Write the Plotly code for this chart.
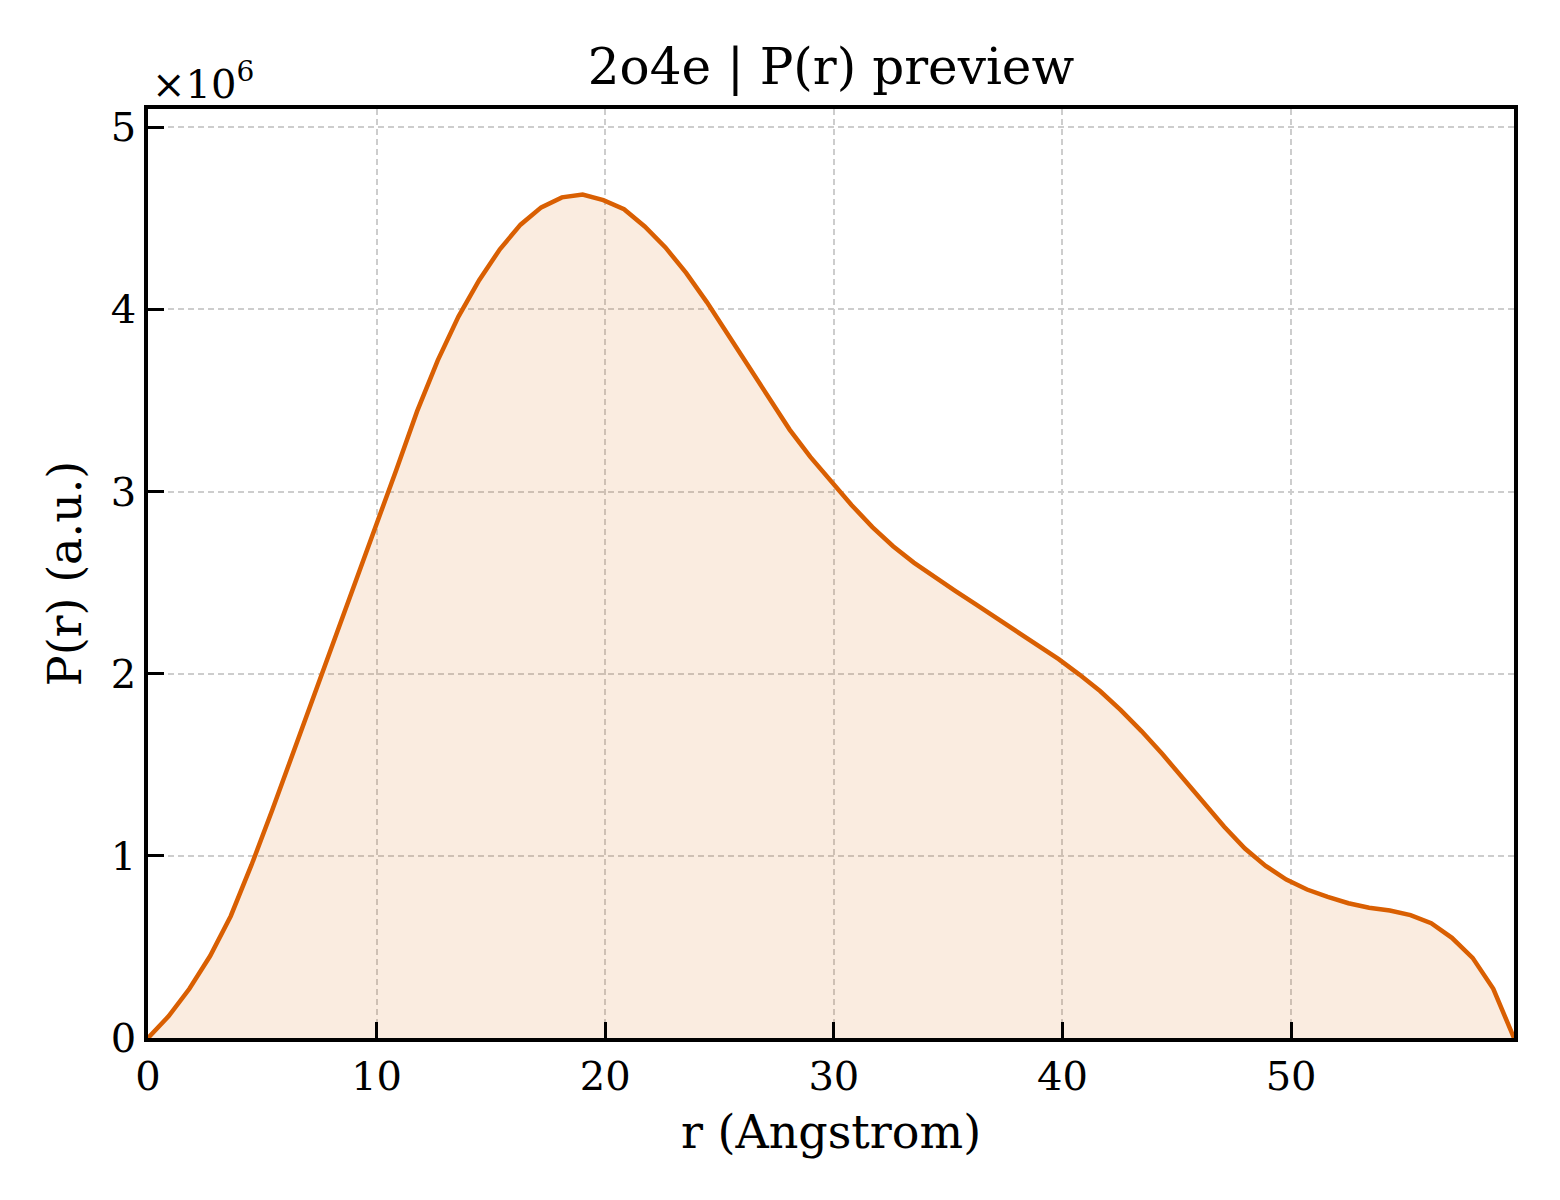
import numpy as np
import plotly.graph_objects as go

r_max = 59.75
n_points = 67
r = np.linspace(0, r_max, n_points)
p_r = [0.00, 0.12, 0.27, 0.45, 0.67, 0.95, 1.25, 1.56, 1.87, 2.18,
       2.49, 2.80, 3.12, 3.44, 3.72, 3.96, 4.16, 4.33, 4.465, 4.56,
       4.615, 4.63, 4.60, 4.55, 4.455, 4.34, 4.20, 4.04, 3.87, 3.69,
       3.515, 3.34, 3.19, 3.055, 2.925, 2.805, 2.70, 2.61, 2.53, 2.455,
       2.38, 2.305, 2.23, 2.155, 2.08, 1.995, 1.905, 1.80, 1.685, 1.56,
       1.425, 1.29, 1.16, 1.04, 0.945, 0.87, 0.815, 0.775, 0.74, 0.715,
       0.70, 0.675, 0.63, 0.55, 0.44, 0.27, 0.0]
scale_exp = 6

x_ticks = [0, 10, 20, 30, 40, 50]
y_ticks = [0, 1, 2, 3, 4, 5]

line_color = '#d95f02'
fill_color = 'rgba(217,95,2,0.12)'
font_family = 'DejaVu Serif'

fig = go.Figure()
fig.add_trace(go.Scatter(x=r, y=p_r, mode='lines',
                         line=dict(color=line_color, width=4.5),
                         fill='tozeroy', fillcolor=fill_color,
                         showlegend=False))

axis_common = dict(showline=True, linecolor='black', linewidth=3.5, mirror=True,
                   ticks='inside', ticklen=16, tickwidth=3, tickcolor='black',
                   showgrid=True, gridcolor='#cdcdcd', gridwidth=1.5, griddash='6px,4px',
                   zeroline=False, tickfont=dict(size=40, color='black'))

fig.update_xaxes(range=[0, r_max], tickvals=x_ticks,
                 title=dict(text='r (Angstrom)', font=dict(size=46), standoff=19),
                 **axis_common)
fig.update_yaxes(range=[0, 5.1], tickvals=y_ticks,
                 title=dict(text='P(r) (a.u.)', font=dict(size=46), standoff=16),
                 **axis_common)

fig.add_annotation(text=f'×10<sup>{scale_exp}</sup>', xref='paper', yref='paper',
                   x=0, y=1, xanchor='left', yanchor='bottom', yshift=0, xshift=2,
                   showarrow=False, font=dict(size=40, color='black'))

# page body adds an 8px offset, margins compensate for it
fig.update_layout(width=1560, height=1200,
                  template='plotly_white',
                  plot_bgcolor='white', paper_bgcolor='white',
                  font=dict(family=font_family, color='black'),
                  title=dict(text='2o4e | P(r) preview', x=0.5, xref='paper',
                             y=1 - 58 / 1200, yref='container', yanchor='middle',
                             font=dict(size=50, color='black')),
                  margin=dict(l=140, r=54, t=101, b=170))

fig.write_html('out.html')
